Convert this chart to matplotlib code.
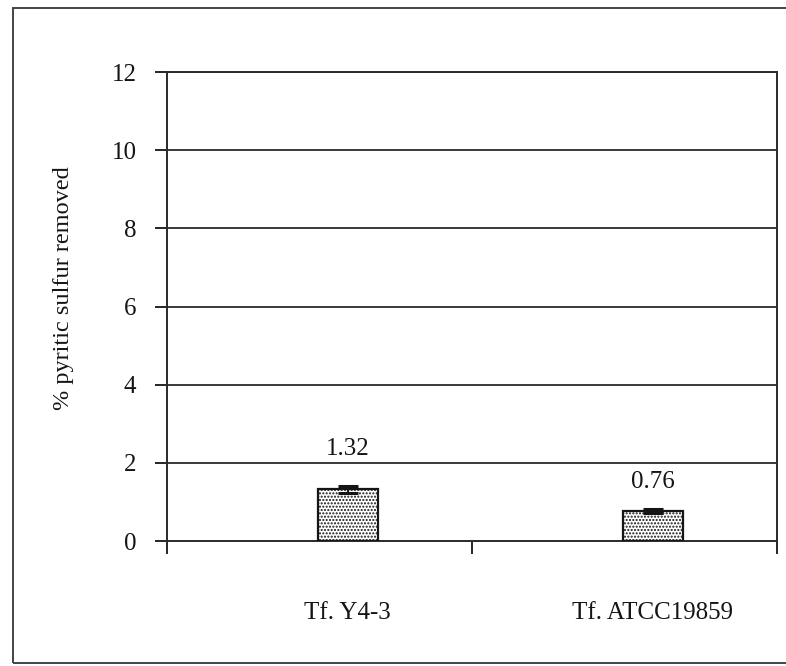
import matplotlib
matplotlib.use("Agg")
import matplotlib.pyplot as plt
import numpy as np
from matplotlib.patches import Rectangle

# Data
strains = ["Tf. Y4-3", "Tf. ATCC19859"]
removed = [1.32, 0.76]
errors = [0.08, 0.05]
value_labels = ["1.32", "0.76"]
y_ticks = [0, 2, 4, 6, 8, 10, 12]

plt.rcParams["font.family"] = ["Liberation Serif", "DejaVu Serif"]
plt.rcParams["hatch.linewidth"] = 1.0
plt.rcParams["hatch.color"] = "#333333"

ink = "#151515"
fig = plt.figure(figsize=(7.86, 6.66), dpi=100)
fig.patch.set_facecolor("white")

# Outer chart-area frame
fig.patches.append(Rectangle((13 / 786, 3 / 666), 1.2, (666 - 8 - 3) / 666,
                             transform=fig.transFigure, fill=False,
                             edgecolor="#444444", linewidth=1.4))

ax = fig.add_axes([167 / 786, 125 / 666, 610 / 786, 469 / 666])
ax.set_facecolor("none")

x = np.arange(len(strains))
ax.set_xlim(-0.593, 1.407)
ax.set_ylim(0, 12)

# Horizontal gridlines
for y in y_ticks[1:]:
    ax.axhline(y, color="#2a2a2a", linewidth=1.3, zorder=1)

ax.bar(x, removed, width=0.195, facecolor="white", edgecolor=ink,
       linewidth=1.6, hatch=".....", zorder=3)
ax.errorbar(x, removed, yerr=errors, fmt="none", ecolor=ink,
            elinewidth=1.5, capsize=7, capthick=2.2, zorder=4)

offsets = [34, 23]
for xi, v, lab, off in zip(x, removed, value_labels, offsets):
    ax.annotate(lab, (xi, v), xytext=(0, off), textcoords="offset pixels",
                ha="center", va="baseline", fontsize=18, color=ink)

ax.set_yticks(y_ticks)
ax.set_yticklabels([str(t) for t in y_ticks], fontsize=18, color=ink)
ax.tick_params(axis="y", direction="out", length=9, width=1.3, pad=13,
               colors=ink)

ax.set_xticks(x)
ax.set_xticklabels(strains, fontsize=18, color=ink)
ax.tick_params(axis="x", which="major", length=0, pad=44, colors=ink)
ax.set_xticks([-0.593, 0.407, 1.407], minor=True)
ax.tick_params(axis="x", which="minor", direction="out", length=9,
               width=1.3, colors=ink)

for side in ["left", "bottom", "right", "top"]:
    ax.spines[side].set_color("#2a2a2a")
    ax.spines[side].set_linewidth(1.4)

ax.set_ylabel("% pyritic sulfur removed", fontsize=17.5, color=ink)
ax.yaxis.set_label_coords(-0.152, 0.54)

fig.savefig("out.png", dpi=100, facecolor="white")
